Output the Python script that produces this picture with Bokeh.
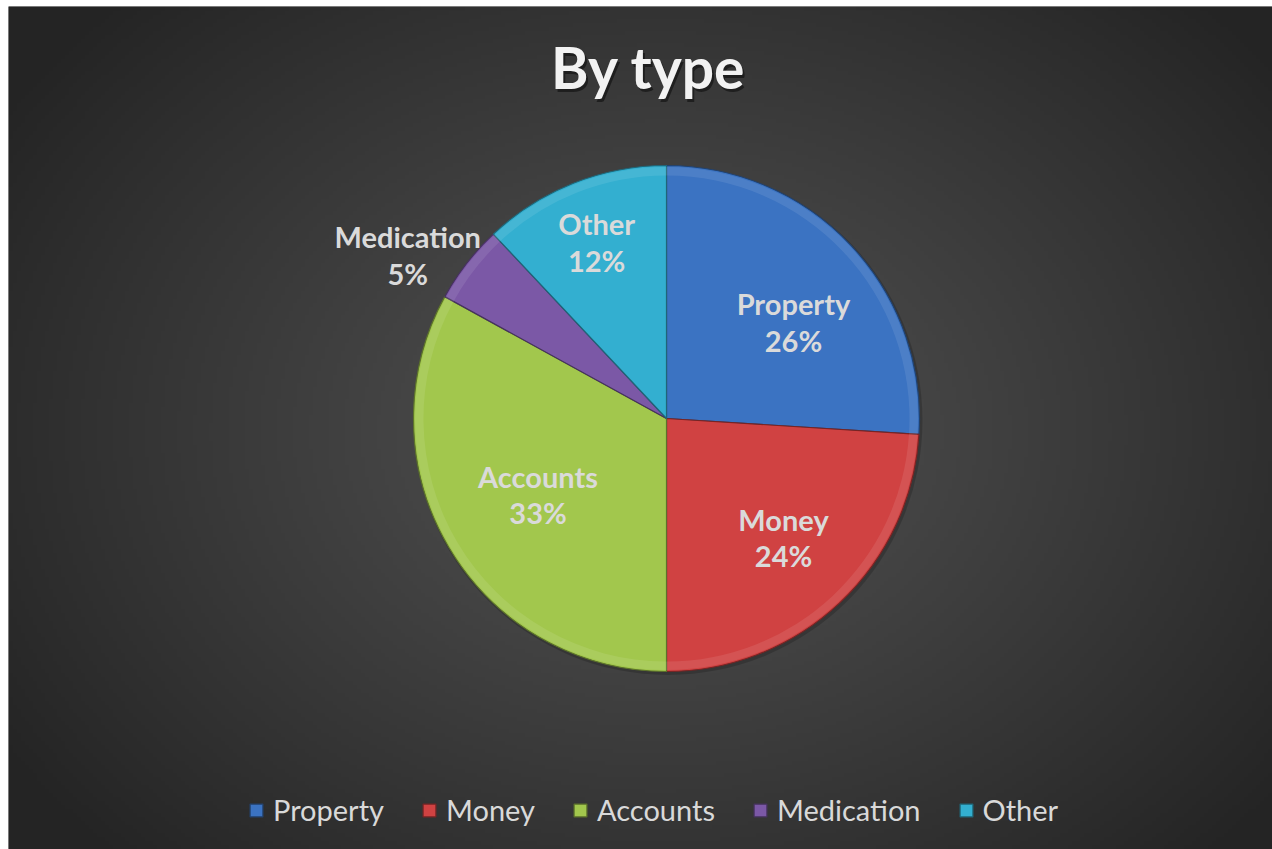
import numpy as np
from bokeh.plotting import figure
from bokeh.models import Legend, LegendItem, ColumnDataSource
from bokeh.core.properties import value
from bokeh.embed import file_html
from bokeh.resources import INLINE

# ---- data ----
categories = ["Property", "Money", "Accounts", "Medication", "Other"]
percents = [26, 24, 33, 5, 12]
colors = ["#3b73c2", "#d04242", "#a2c74d", "#7b58a6", "#33afd0"]
edge_colors = ["#22426e", "#782424", "#5c722b", "#46325e", "#1f6678"]
title_text = "By type"

FONT = "Lato"
PAGE_W, PAGE_H = 1272, 849
LEFT, TOP = 8, 6

p = figure(width=PAGE_W, height=PAGE_H,
           x_range=(LEFT, PAGE_W), y_range=(0, PAGE_H - TOP),
           output_backend="svg", toolbar_location=None,
           min_border_left=LEFT, min_border_top=TOP,
           min_border_right=0, min_border_bottom=0)
p.axis.visible = False
p.grid.visible = False
p.outline_line_color = None
p.background_fill_color = "#2e2e2e"
p.border_fill_color = "white"

def yy(page_y):
    return PAGE_H - page_y

# ---- background radial gradient ----
W, H = PAGE_W - LEFT, PAGE_H - TOP
gw, gh = 316, 211
xs = LEFT + (np.arange(gw) + 0.5) / gw * W
ys = (np.arange(gh) + 0.5) / gh * H
X, Y = np.meshgrid(xs, ys)
cx, cy = 660, yy(430)
d = np.sqrt(((X - cx) / (W * 0.62)) ** 2 + ((Y - cy) / (H * 0.72)) ** 2)
d = np.clip(d, 0, 1)
g = (82 - (82 - 36) * d ** 1.1).astype(np.uint8)
rgba = np.zeros((gh, gw, 4), dtype=np.uint8)
rgba[..., 0] = g
rgba[..., 1] = g
rgba[..., 2] = g
rgba[..., 3] = 255
img = rgba.view(dtype=np.uint32).reshape((gh, gw))
p.image_rgba(image=[img], x=LEFT, y=0, dw=W, dh=H)

# ---- pie ----
PX, PY, R = 666, yy(418), 253
fr = np.array(percents, dtype=float) / sum(percents)
cum = np.concatenate([[0], np.cumsum(fr)])
start = np.pi / 2 - 2 * np.pi * cum[:-1]
end = np.pi / 2 - 2 * np.pi * cum[1:]
mid = (start + end) / 2

src = ColumnDataSource(dict(cat=categories, pct=percents, start=start, end=end,
                            color=colors, edge=edge_colors))
# soft shadow
p.wedge(x=PX + 1.5, y=PY - 2, radius=R + 1.5, start_angle=0, end_angle=2 * np.pi,
        fill_color="black", fill_alpha=0.18, line_color=None)
wr = p.wedge(x=PX, y=PY, radius=R, start_angle="start", end_angle="end",
             direction="clock", fill_color="color", line_color="edge",
             line_width=1.2, source=src)
# bevel highlight
p.annular_wedge(x=PX, y=PY, inner_radius=R - 10, outer_radius=R - 1.5,
                start_angle="start", end_angle="end", direction="clock",
                fill_color="white", fill_alpha=0.09, line_color=None, source=src)

# ---- data labels ----
label_r = [0.63, 0.66, 0.59, 1.21, 0.75]
label_dang = [-6.0, 1.3, 0.0, 5.5, 0.0]
ang = mid + np.radians(label_dang)
lx = [PX + R * f * np.cos(a) for f, a in zip(label_r, ang)]
ly = [PY + R * f * np.sin(a) for f, a in zip(label_r, ang)]
ltext = [f"{c}\n{v}%" for c, v in zip(categories, percents)]
p.text(x=lx, y=ly, text=ltext, text_align="center", text_baseline="middle",
       text_font=value(FONT), text_font_style="bold", text_font_size="29px",
       text_color="#dadada", text_line_height=1.05)

# ---- title ----
TX, TY = 648, yy(66)
p.text(x=[TX + 2], y=[TY - 3], text=[title_text], text_align="center",
       text_baseline="middle", text_font=value(FONT), text_font_style="bold",
       text_font_size="57px", text_color="#000000", text_alpha=0.45)
p.text(x=[TX], y=[TY], text=[title_text], text_align="center",
       text_baseline="middle", text_font=value(FONT), text_font_style="bold",
       text_font_size="57px", text_color="#f2f2f2")

# ---- legend ----
items = [LegendItem(label=c, renderers=[wr], index=i) for i, c in enumerate(categories)]
legend = Legend(items=items, orientation="horizontal", location=(240, 22),
                background_fill_alpha=0, border_line_color=None,
                label_text_color="#d9d9d9", label_text_font=FONT,
                label_text_font_size="29px", glyph_width=16, glyph_height=16,
                label_standoff=9, spacing=37, padding=0, margin=0)
p.add_layout(legend, "center")

open("out.html", "w").write(file_html(p, INLINE))
